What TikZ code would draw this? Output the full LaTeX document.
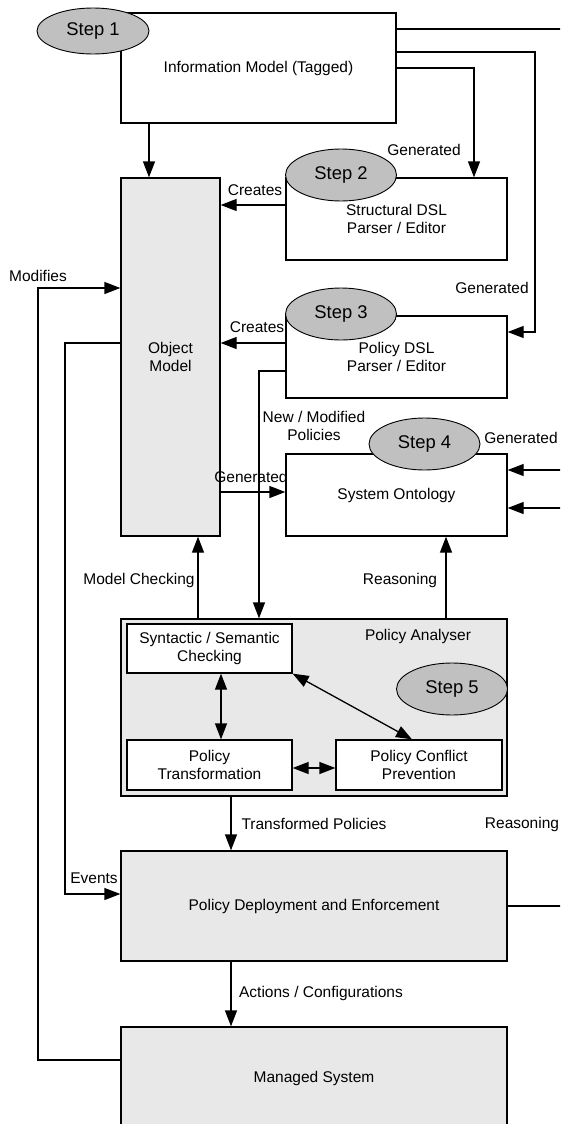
\documentclass[tikz,border=0pt]{standalone}
\usepackage{fontspec}
\setmainfont{Liberation Sans}
\usetikzlibrary{arrows.meta,shapes.geometric,calc}
\definecolor{boxgray}{HTML}{E8E8E8}
\definecolor{stepgray}{HTML}{C0C0C0}
\begin{document}
\begin{tikzpicture}[x=1pt,y=-1pt,
  every node/.style={font=\fontsize{15.5}{18}\selectfont},
  box/.style={draw, line width=1.3pt, fill=white, inner sep=0pt, align=center},
  gbox/.style={box, fill=boxgray},
  stepnode/.style={ellipse, draw, line width=0.9pt, fill=stepgray, inner sep=0pt, font=\fontsize{18.4}{20}\selectfont},
  lbl/.style={inner sep=0pt, align=center},
  conn/.style={line width=1.3pt},
  arr/.style={conn, -{Triangle[length=16pt,width=12pt]}},
  darr/.style={conn, {Triangle[length=16pt,width=12pt]}-{Triangle[length=16pt,width=12pt]}},
]
\useasboundingbox (0,0) rectangle (560,1124);
\clip (0,0) rectangle (560,1124);

% boxes
\node[box, minimum width=275pt, minimum height=110pt] (Info) at (258.5,68) {Information Model (Tagged)};
\node[gbox, minimum width=99pt, minimum height=358pt] (Obj) at (170.5,357) {Object\\Model};
\node[box, minimum width=221pt, minimum height=82pt] (SDSL) at (396.5,219) {Structural DSL\\Parser / Editor};
\node[box, minimum width=221pt, minimum height=82pt] (PDSL) at (396.5,357) {Policy DSL\\Parser / Editor};
\node[box, minimum width=221pt, minimum height=82pt] (Onto) at (396.5,495) {System Ontology};
\node[gbox, minimum width=386pt, minimum height=177pt] (PA) at (314,707.5) {};
\node[box, minimum width=165pt, minimum height=49pt] (Syn) at (209.5,648.5) {Syntactic / Semantic\\Checking};
\node[box, minimum width=165pt, minimum height=50pt] (PT) at (209.5,765) {Policy\\Transformation};
\node[box, minimum width=166pt, minimum height=50pt] (PCP) at (419,765) {Policy Conflict\\Prevention};
\node[gbox, minimum width=386pt, minimum height=110pt] (PDE) at (314,906) {Policy Deployment and Enforcement};
\node[gbox, minimum width=386pt, minimum height=103pt] (MS) at (314,1078.5) {Managed System};

% helper coordinates
\coordinate (xA) at (149,0);
\coordinate (xB) at (474,0);
\coordinate (xC) at (535,0);
\coordinate (yC1) at (0,52);
\coordinate (yC2) at (0,332);
\coordinate (yE) at (0,29);
\coordinate (offE) at (580,29);
\coordinate (y205) at (0,205);
\coordinate (y343) at (0,343);
\coordinate (y371) at (0,371);
\coordinate (x259) at (259,0);
\coordinate (x65) at (65,0);
\coordinate (y894) at (0,894);
\coordinate (y1060) at (0,1060);
\coordinate (x38) at (38,0);
\coordinate (y288) at (0,288);
\coordinate (y492) at (0,492);
\coordinate (x198) at (198,0);
\coordinate (x446) at (446,0);
\coordinate (off470) at (580,470);
\coordinate (off508) at (580,508);
\coordinate (x221) at (221,0);
\coordinate (x412) at (412,0);
\coordinate (y768) at (0,768);
\coordinate (x231) at (231,0);
\coordinate (off906) at (580,906);

% connectors
\draw[arr] (Info.south -| xA) -- (Obj.north -| xA);
\draw[arr] (Info.east) -| (SDSL.north -| xB);
\draw[arr] (Info.east |- yC1) -| (xC |- yC2) -- (PDSL.east |- yC2);
\draw[conn] (Info.east |- yE) -- (offE);
\draw[arr] (SDSL.west |- y205) -- (Obj.east |- y205);
\draw[arr] (PDSL.west |- y343) -- (Obj.east |- y343);
\draw[arr] (PDSL.west |- y371) -| (PA.north -| x259);
\draw[arr] (Obj.west |- y343) -| (x65 |- y894) -- (PDE.west |- y894);
\draw[arr] (MS.west |- y1060) -| (x38 |- y288) -- (Obj.west |- y288);
\draw[arr] (Obj.east |- y492) -- (Onto.west |- y492);
\draw[arr] (PA.north -| x198) -- (Obj.south -| x198);
\draw[arr] (PA.north -| x446) -- (Onto.south -| x446);
\draw[arr] (off470) -- (Onto.east |- off470);
\draw[arr] (off508) -- (Onto.east |- off508);
\draw[darr] (Syn.south -| x221) -- (PT.north -| x221);
\draw[darr] (Syn.south east) -- (PCP.north -| x412);
\draw[darr] (PT.east |- y768) -- (PCP.west |- y768);
\draw[arr] (PA.south -| x231) -- (PDE.north -| x231);
\draw[arr] (PDE.south -| x231) -- (MS.north -| x231);
\draw[conn] (PDE.east) -- (off906);

% step ellipses
\node[stepnode, minimum width=112pt, minimum height=46pt] (S1) at (93,31) {Step 1};
\node[stepnode, minimum width=111pt, minimum height=52pt] (S2) at (341,175) {Step 2};
\node[stepnode, minimum width=111pt, minimum height=52pt] (S3) at (341,314) {Step 3};
\node[stepnode, minimum width=111pt, minimum height=52pt] (S4) at (424.5,444) {Step 4};
\node[stepnode, minimum width=111pt, minimum height=52pt] (S5) at (452,689) {Step 5};

% labels
\node[lbl] (PAl) at (418,636) {Policy Analyser};
\node[lbl] (L1) at (424,150) {Generated};
\node[lbl] (L2) at (255,190) {Creates};
\node[lbl] (L3) at (257,327) {Creates};
\node[lbl] (L4) at (38,276) {Modifies};
\node[lbl] (L5) at (492,288) {Generated};
\node[lbl] (L6) at (314,426) {New / Modified\\Policies};
\node[lbl] (L7) at (521,438) {Generated};
\node[lbl] (L8) at (251,477) {Generated};
\node[lbl] (L9) at (139,580) {Model Checking};
\node[lbl] (L10) at (400,580) {Reasoning};
\node[lbl] (L11) at (314,824) {Transformed Policies};
\node[lbl] (L12) at (522,824) {Reasoning};
\node[lbl] (L13) at (94,878) {Events};
\node[lbl] (L14) at (321,993) {Actions / Configurations};
\end{tikzpicture}
\end{document}
